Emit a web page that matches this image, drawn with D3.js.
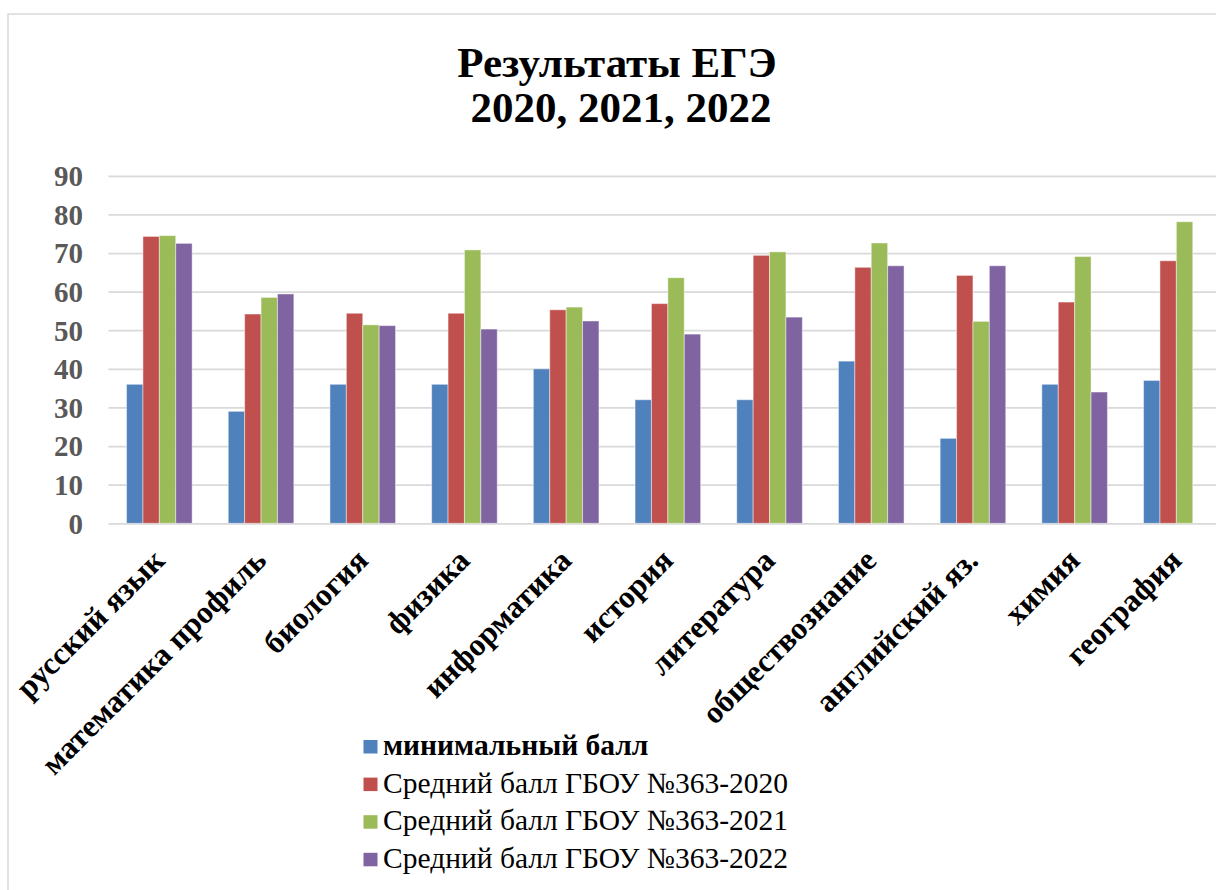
<html>
<head>
<meta charset="utf-8">
<script src="https://cdn.jsdelivr.net/npm/d3@7"></script>
<style>
  html, body { margin: 0; padding: 0; background: #fff; }
  svg text { font-family: "Liberation Serif", "Times New Roman", Times, serif !important; }
</style>
</head>
<body>
<svg id="chart" width="1216" height="890" font-family="Liberation Serif" style="display:block"></svg>
<script>
const categories = ["русский язык", "математика профиль", "биология", "физика", "информатика",
  "история", "литература", "обществознание", "английский яз.", "химия", "география"];
const seriesNames = ["минимальный балл", "Средний балл ГБОУ №363-2020",
  "Средний балл ГБОУ №363-2021", "Средний балл ГБОУ №363-2022"];
const minScore  = [36, 29, 36, 36, 40, 32, 32, 42, 22, 36, 37];
const avg2020   = [74.3, 54.2, 54.4, 54.4, 55.3, 56.9, 69.4, 66.3, 64.2, 57.3, 68.0];
const avg2021   = [74.5, 58.5, 51.4, 70.8, 56.0, 63.6, 70.3, 72.6, 52.3, 69.1, 78.1];
const avg2022   = [72.5, 59.4, 51.2, 50.3, 52.4, 49.0, 53.4, 66.7, 66.7, 34.0, null];
const seriesColors = ["#4F81BD", "#C0504D", "#9BBB59", "#8064A2"];
const yTicks = [0, 10, 20, 30, 40, 50, 60, 70, 80, 90];
const titleLines = ["Результаты ЕГЭ", "2020, 2021, 2022"];

const series = [minScore, avg2020, avg2021, avg2022];
const svg = d3.select("#chart");
const SERIF = "\"Liberation Serif\"";

// outer chart border
svg.append("rect").attr("x", 8).attr("y", 14).attr("width", 1300).attr("height", 1000)
  .attr("fill", "none").attr("stroke", "#D9D9D9").attr("stroke-width", 1.5);

// title
const title = svg.append("text").attr("text-anchor", "middle").style("font-family", SERIF)
  .attr("font-weight", "bold").attr("font-size", 43).attr("fill", "#000");
titleLines.forEach((t, i) => {
  title.append("tspan").attr("x", 617 + i * 4).attr("y", 77 + i * 45).text(t);
});

const plotLeft = 108.5, plotRight = 108.5 + 11 * 101.7;
const x0 = d3.scaleBand().domain(categories).range([plotLeft, plotRight])
  .paddingInner(0.355).paddingOuter(0.1775);
const x1 = d3.scaleBand().domain(d3.range(series.length)).range([0, x0.bandwidth()]);
const y = d3.scaleLinear().domain([0, 90]).range([523.3, 175.8]);

// gridlines
const gy = svg.append("g").attr("transform", `translate(${plotLeft},0)`)
  .call(d3.axisLeft(y).tickValues(yTicks).tickSize(-(plotRight - plotLeft)).tickFormat(""));
gy.select(".domain").remove();
gy.selectAll(".tick line").attr("stroke", "#D9D9D9").attr("stroke-width", 1.75);

// y labels
const yl = svg.append("g").attr("transform", `translate(83,0)`)
  .call(d3.axisLeft(y).tickValues(yTicks).tickSize(0).tickPadding(0));
yl.attr("font-family", "Liberation Serif").attr("font-size", 29);
yl.select(".domain").remove();
yl.selectAll(".tick text").style("font-family", SERIF).attr("font-weight", "bold")
  .style("font-size", "29px").attr("fill", "#595959").attr("dy", "0.34em");

// bars
const groups = svg.append("g").selectAll("g").data(categories).join("g")
  .attr("transform", d => `translate(${x0(d)},0)`);
groups.selectAll("rect")
  .data((c, ci) => series.map((s, si) => ({si, v: s[ci]})).filter(d => d.v != null))
  .join("rect")
  .attr("x", d => x1(d.si)).attr("width", x1.bandwidth())
  .attr("y", d => y(d.v)).attr("height", d => y(0) - y(d.v))
  .attr("fill", d => seriesColors[d.si])
  .attr("stroke", "rgba(255,255,255,0.45)").attr("stroke-width", 1);

// x labels
const xl = svg.append("g").attr("transform", `translate(0,523.3)`)
  .call(d3.axisBottom(x0).tickSize(0).tickPadding(0));
xl.attr("font-family", "Liberation Serif").attr("font-size", 31);
xl.select(".domain").remove();
xl.selectAll(".tick text").style("font-family", SERIF)
  .attr("font-weight", "bold").style("font-size", "31.5px").attr("fill", "#000")
  .attr("text-anchor", "end").attr("dy", 0).attr("y", 0)
  .attr("transform", "translate(7,39) rotate(-45)");

// legend
const legend = svg.append("g");
seriesNames.forEach((name, i) => {
  const by = 755 + i * 37.6;
  legend.append("rect").attr("x", 363.5).attr("y", by - 15).attr("width", 14).attr("height", 13.5)
    .attr("fill", seriesColors[i]);
  legend.append("text").style("font-family", SERIF).attr("x", 383).attr("y", by)
    .attr("font-size", 29.5).attr("font-weight", i === 0 ? "bold" : "normal").attr("fill", "#000").text(name);
});
</script>
</body>
</html>
